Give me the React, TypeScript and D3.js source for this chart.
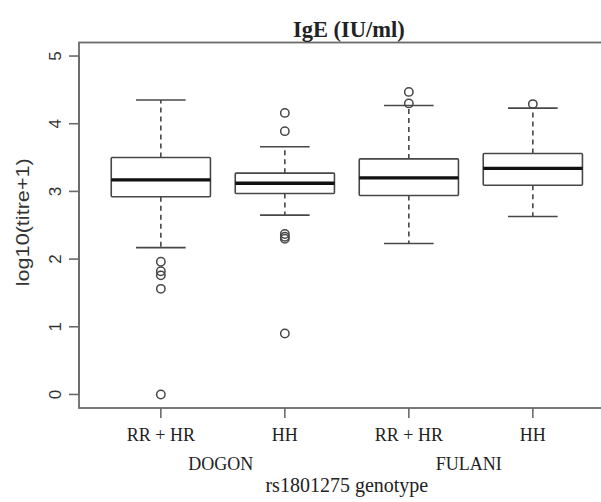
import React from "react";
import * as d3 from "d3";

const groups = ["RR + HR", "HH", "RR + HR", "HH"];
const populations = ["DOGON", "FULANI"];
const whiskerLow = [2.17, 2.65, 2.23, 2.63];
const q1 = [2.92, 2.97, 2.94, 3.09];
const median = [3.17, 3.12, 3.2, 3.34];
const q3 = [3.5, 3.27, 3.48, 3.56];
const whiskerHigh = [4.35, 3.66, 4.27, 4.23];
const outliers = [
  [1.96, 1.82, 1.76, 1.56, 0.0],
  [4.16, 3.89, 2.37, 2.33, 2.3, 0.9],
  [4.47, 4.3],
  [4.29],
];
const yTicks = [0, 1, 2, 3, 4, 5];

const W = 601;
const H = 502;

export default function App() {
  const x = d3.scaleLinear().domain([0.34, 4.66]).range([79, 79 + 4.32 * 124]);
  const y = d3.scaleLinear().domain([-0.2, 5.2]).range([408, 42.5]);
  const bw = x(0.8) - x(0);
  const cw = x(0.4) - x(0);
  const boxStroke = "#474747";
  const frame = "#6a6a6a";
  const serif = "'Liberation Serif', 'Times New Roman', serif";
  const sans = "'Liberation Sans', Arial, sans-serif";
  const [x0, x1] = x.range();
  const [yb, yt] = y.range();

  return (
    <svg
      width={W}
      height={H}
      style={{ position: "absolute", left: 0, top: 0, background: "#fff" }}
    >
      <rect x={0} y={0} width={W} height={H} fill="#fff" />
      {/* frame */}
      <rect x={x0} y={yt} width={x1 - x0} height={yb - yt} fill="none" stroke={frame} strokeWidth={1.8} />
      {/* y axis */}
      <line x1={x0} x2={x0} y1={y(0)} y2={y(5)} stroke={frame} strokeWidth={1.6} />
      {yTicks.map((t) => (
        <g key={t}>
          <line x1={x0 - 10} x2={x0} y1={y(t)} y2={y(t)} stroke={frame} strokeWidth={1.6} />
          <text
            transform={`translate(61,${y(t)}) rotate(-90)`}
            textAnchor="middle"
            fontFamily={sans}
            fontSize={17}
            fill="#333"
          >
            {t}
          </text>
        </g>
      ))}
      <text
        transform={`translate(29,${(yb + yt) / 2 - 3}) rotate(-90)`}
        textAnchor="middle"
        fontFamily={sans}
        fontSize={18}
        textLength={128}
        lengthAdjust="spacingAndGlyphs"
        fill="#333"
      >
        log10(titre+1)
      </text>
      {/* x axis */}
      {groups.map((g, i) => (
        <g key={i}>
          <line x1={x(i + 1)} x2={x(i + 1)} y1={yb} y2={yb + 10} stroke={frame} strokeWidth={1.6} />
          <text x={x(i + 1)} y={441} textAnchor="middle" fontFamily={serif} fontSize={18} fill="#222">
            {g}
          </text>
        </g>
      ))}
      {populations.map((p, j) => (
        <text
          key={p}
          x={(x(2 * j + 1) + x(2 * j + 2)) / 2 - 2}
          y={470}
          textAnchor="middle"
          fontFamily={serif}
          fontSize={18}
          fill="#222"
        >
          {p}
        </text>
      ))}
      <text x={(x0 + x1) / 2} y={492} textAnchor="middle" fontFamily={serif} fontSize={20} fill="#222">
        rs1801275 genotype
      </text>
      <text
        x={(x0 + x1) / 2 + 2}
        y={36.5}
        textAnchor="middle"
        fontFamily={serif}
        fontWeight="bold"
        fontSize={22.5}
        fill="#222"
      >
        IgE (IU/ml)
      </text>
      {/* boxes */}
      {groups.map((g, i) => {
        const cx = x(i + 1);
        return (
          <g key={"b" + i}>
            <line x1={cx} x2={cx} y1={y(q3[i])} y2={y(whiskerHigh[i])} stroke={boxStroke} strokeWidth={1.6} strokeDasharray="5,4" />
            <line x1={cx} x2={cx} y1={y(q1[i])} y2={y(whiskerLow[i])} stroke={boxStroke} strokeWidth={1.6} strokeDasharray="5,4" />
            <line x1={cx - cw / 2} x2={cx + cw / 2} y1={y(whiskerHigh[i])} y2={y(whiskerHigh[i])} stroke={boxStroke} strokeWidth={1.6} />
            <line x1={cx - cw / 2} x2={cx + cw / 2} y1={y(whiskerLow[i])} y2={y(whiskerLow[i])} stroke={boxStroke} strokeWidth={1.6} />
            <rect
              x={cx - bw / 2}
              y={y(q3[i])}
              width={bw}
              height={y(q1[i]) - y(q3[i])}
              fill="#fff"
              stroke={boxStroke}
              strokeWidth={1.6}
              rx={1}
            />
            <line x1={cx - bw / 2} x2={cx + bw / 2} y1={y(median[i])} y2={y(median[i])} stroke="#111" strokeWidth={3.4} />
            {outliers[i].map((v, k) => (
              <circle key={k} cx={cx} cy={y(v)} r={4.2} fill="none" stroke={boxStroke} strokeWidth={1.5} />
            ))}
          </g>
        );
      })}
    </svg>
  );
}
